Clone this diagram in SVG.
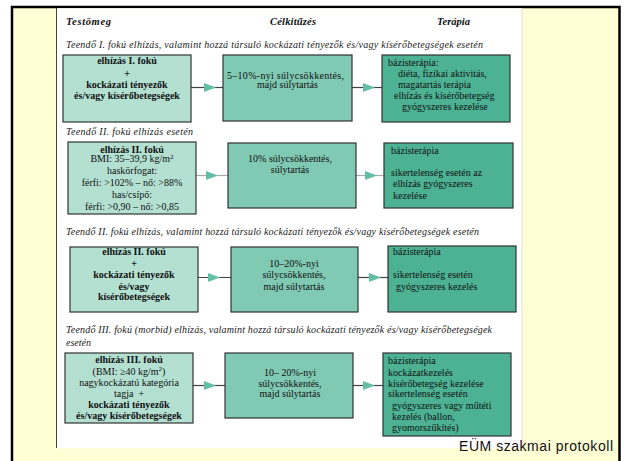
<svg xmlns="http://www.w3.org/2000/svg" xmlns:xlink="http://www.w3.org/1999/xlink" width="626" height="461" viewBox="0 0 626 461">
<style>
.a{fill:#b3e0d1;stroke:#333;stroke-width:1.2}
.b{fill:#80c9b3;stroke:#333;stroke-width:1.2}
.c{fill:#4cb293;stroke:#333;stroke-width:1.2}
text{font-family:"Liberation Serif","Times New Roman",serif;font-size:10px;fill:#111}
.m{text-anchor:middle}
.bd{font-weight:bold}
.cap{font-style:italic;font-size:10px;fill:#222}
.hd{font-style:italic;font-weight:bold;font-size:10.5px}
.ln{stroke:#444;stroke-width:1.2}
.ln2{stroke:#aaa;stroke-width:1.2}
.ah{fill:#62bfa5}
</style>
<defs>
<polygon id="ah" class="ah" points="0,-4.5 0,4.5 12,0"/>
</defs>
<rect x="0" y="0" width="626" height="461" fill="#fff"/>
<rect x="12" y="7" width="607.5" height="470" fill="#ffffd5" stroke="#000" stroke-width="2.5"/>
<rect x="56" y="8.3" width="466" height="440" fill="#fff"/>
<line x1="56.5" y1="8" x2="56.5" y2="448" stroke="#444" stroke-width="1"/>
<line x1="522" y1="8" x2="522" y2="448" stroke="#ddd" stroke-width="1"/>

<g id="headers">
<text class="hd" x="66" y="25" textLength="45">Testömeg</text>
<text class="hd" x="270" y="25" textLength="46">Célkitűzés</text>
<text class="hd" x="437" y="25" textLength="33">Terápia</text>
</g>

<g id="captions">
<text class="cap" x="66" y="48" textLength="417">Teendő I. fokú elhízás, valamint hozzá társuló kockázati tényezők és/vagy kísérőbetegségek esetén</text>
<text class="cap" x="66" y="135" textLength="127">Teendő II. fokú elhízás esetén</text>
<text class="cap" x="66" y="235" textLength="413">Teendő II. fokú elhízás, valamint hozzá társuló kockázati tényezők és/vagy kísérőbetegségek esetén</text>
<text class="cap" x="66" y="333" textLength="426">Teendő III. fokú (morbid) elhízás, valamint hozzá társuló kockázati tényezők és/vagy kísérőbetegségek</text>
<text class="cap" x="66" y="346" font-size="8.5" textLength="25">esetén</text>
</g>

<g id="connectors">
<line class="ln" x1="191" y1="87.5" x2="223" y2="87.5"/>
<use xlink:href="#ah" x="204" y="87.5"/>
<line class="ln" x1="352" y1="87.5" x2="382" y2="87.5"/>
<use xlink:href="#ah" x="363" y="87.5"/>
<line class="ln2" x1="196" y1="175.5" x2="228" y2="175.5"/>
<use xlink:href="#ah" x="206" y="175.5"/>
<line class="ln2" x1="356" y1="175.5" x2="384" y2="175.5"/>
<use xlink:href="#ah" x="365" y="175.5"/>
<line class="ln" x1="198" y1="277.5" x2="231" y2="277.5"/>
<use xlink:href="#ah" x="208" y="277.5"/>
<line class="ln" x1="358" y1="277.5" x2="388" y2="277.5"/>
<use xlink:href="#ah" x="369" y="277.5"/>
<line class="ln" x1="193" y1="385.5" x2="225" y2="385.5"/>
<use xlink:href="#ah" x="204" y="385.5"/>
<line class="ln" x1="353" y1="385.5" x2="383" y2="385.5"/>
<use xlink:href="#ah" x="363" y="385.5"/>
</g>

<g id="a1">
<rect class="a" x="63" y="55" width="128" height="67"/>
<text class="m bd" x="127" y="63.5">elhízás I. fokú</text>
<text class="m bd" x="127" y="77">+</text>
<text class="m bd" x="127" y="87.5">kockázati tényezők</text>
<text class="m bd" x="127" y="98.5">és/vagy kísérőbetegségek</text>
</g>
<g id="b1">
<rect class="b" x="223" y="55" width="129" height="66"/>
<text x="227" y="78.5" font-size="10.5" textLength="117">5–10%-nyi súlycsökkentés,</text>
<text class="m" x="287.5" y="88" font-size="10.5">majd súlytartás</text>
</g>
<g id="c1">
<rect class="c" x="382" y="55" width="128" height="67"/>
<text x="388" y="65.5">bázisterápia:</text>
<text x="398" y="77">diéta, fizikai aktivitás,</text>
<text x="398" y="88">magatartás terápia</text>
<text x="394" y="99">elhízás és kísérőbetegség</text>
<text x="402" y="110">gyógyszeres kezelése</text>
</g>

<g id="a2">
<rect class="a" x="68" y="142" width="128" height="72"/>
<text class="m bd" x="132" y="152.5" font-size="9">elhízás II. fokú</text>
<text class="m" x="132" y="162">BMI: 35–39,9 kg/m<tspan font-size="7" dy="-3.5">2</tspan></text>
<text class="m" x="132" y="173.5">haskörfogat:</text>
<text class="m" x="132" y="186">férfi: &gt;102% – nő: &gt;88%</text>
<text class="m" x="132" y="197.5">has/csípő:</text>
<text class="m" x="132" y="209.5">férfi: &gt;0,90 – nő: &gt;0,85</text>
</g>
<g id="b2">
<rect class="b" x="228" y="143" width="128" height="65"/>
<text class="m" x="290" y="161.5">10% súlycsökkentés,</text>
<text class="m" x="290" y="172.5">súlytartás</text>
</g>
<g id="c2">
<rect class="c" x="384" y="143" width="129" height="65"/>
<text x="391" y="153.5" font-size="9">bázisterápia</text>
<text x="391" y="175.5">sikertelenség esetén az</text>
<text x="393" y="187">elhízás gyógyszeres</text>
<text x="393" y="198.5">kezelése</text>
</g>

<g id="a3">
<rect class="a" x="70" y="247" width="128" height="65"/>
<text class="m bd" x="134" y="254.5" font-size="9.5">elhízás II. fokú</text>
<text class="m bd" x="134" y="266.5">+</text>
<text class="m bd" x="134" y="277.5">kockázati tényezők</text>
<text class="m bd" x="134" y="289.5">és/vagy</text>
<text class="m bd" x="134" y="300">kísérőbetegségek</text>
</g>
<g id="b3">
<rect class="b" x="231" y="247" width="127" height="65"/>
<text class="m" x="294" y="266.5">10–20%-nyi</text>
<text class="m" x="294" y="277.5">súlycsökkentés,</text>
<text class="m" x="294" y="289.5">majd súlytartás</text>
</g>
<g id="c3">
<rect class="c" x="388" y="246" width="128" height="66"/>
<text x="393" y="254.5">bázisterápia</text>
<text x="393" y="277.5">sikertelenség esetén</text>
<text x="396" y="289.5">gyógyszeres kezelés</text>
</g>

<g id="a4">
<rect class="a" x="65" y="353" width="128" height="70"/>
<text class="m bd" x="129" y="362.5">elhízás III. fokú</text>
<text class="m" x="129" y="374.5">(BMI: ≥40 kg/m<tspan font-size="7" dy="-3.5">2</tspan><tspan dy="3.5">)</tspan></text>
<text class="m" x="129" y="385.5">nagykockázatú kategória</text>
<text class="m" x="129" y="396.5">tagja&#160; +</text>
<text class="m bd" x="129" y="407.5">kockázati tényezők</text>
<text class="m bd" x="129" y="418.5">és/vagy kísérőbetegségek</text>
</g>
<g id="b4">
<rect class="b" x="225" y="353" width="128" height="65"/>
<text class="m" x="290" y="375.5">10– 20%-nyi</text>
<text class="m" x="290" y="386.5">súlycsökkentés,</text>
<text class="m" x="290" y="397">majd súlytartás</text>
</g>
<g id="c4">
<rect class="c" x="383" y="353" width="128" height="83"/>
<text x="388" y="363.5">bázisterápia</text>
<text x="388" y="375.5">kockázatkezelés</text>
<text x="388" y="386.5">kísérőbetegség kezelése</text>
<text x="388" y="397">sikertelenség esetén</text>
<text x="392" y="408.5">gyógyszeres vagy műtéti</text>
<text x="392" y="419.5">kezelés (ballon,</text>
<text x="392" y="430.5">gyomorszűkítés)</text>
</g>

<g id="footer">
<text x="459" y="451" style="font-family:'Liberation Sans',Arial,sans-serif;font-size:14px" textLength="154">EÜM szakmai protokoll</text>
</g>
</svg>
